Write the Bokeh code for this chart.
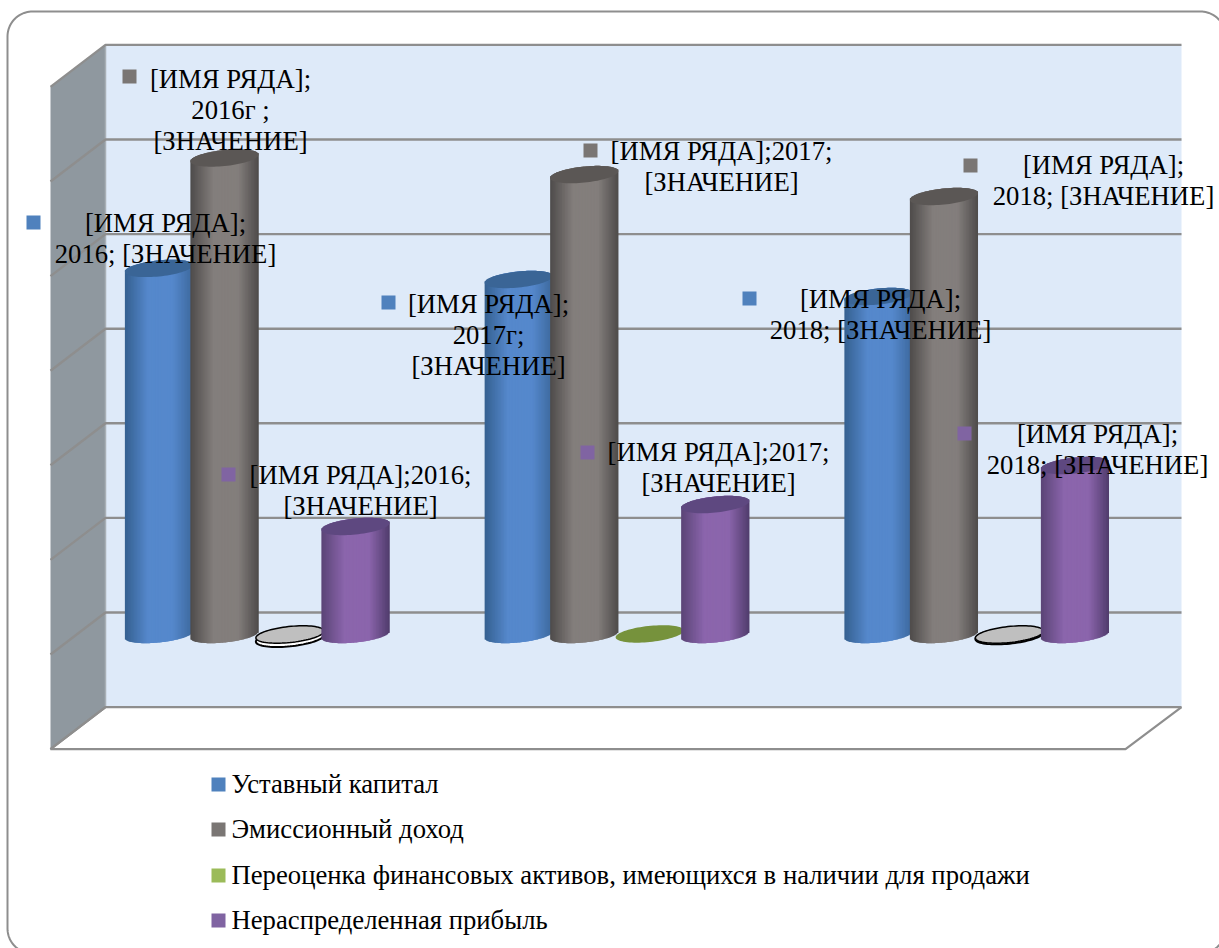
import numpy as np
from bokeh.core.properties import value
from bokeh.embed import file_html
from bokeh.models import Range1d
from bokeh.plotting import figure
from bokeh.resources import INLINE

# ---- data -----------------------------------------------------------------
years = ["2016", "2017", "2018"]
share_capital = [3870, 3753, 3573]
share_premium = [5037, 4862, 4630]
revaluation = [-40, 6, -12]
retained_earnings = [1142, 1374, 1786]

legend_names = [
    "Уставный капитал",
    "Эмиссионный доход",
    "Переоценка финансовых активов, имеющихся в наличии для продажи",
    "Нераспределенная прибыль",
]
series_colors = ["#4f81bd", "#7a7674", "#9bbb59", "#8064a2"]
value_ticks = [-1000, 0, 1000, 2000, 3000, 4000, 5000, 6000]

# data label text, one row per label: marker colour index, marker x, marker y,
# lines of text, centre of the text block
data_labels = [
    (1, 129, 76, ["[ИМЯ РЯДА];", "2016г ;", "[ЗНАЧЕНИЕ]"], 230, 78),
    (0, 33, 222, ["[ИМЯ РЯДА];", "2016; [ЗНАЧЕНИЕ]"], 165, 222),
    (0, 388, 302, ["[ИМЯ РЯДА];", "2017г;", "[ЗНАЧЕНИЕ]"], 488, 303),
    (1, 590, 150, ["[ИМЯ РЯДА];2017;", "[ЗНАЧЕНИЕ]"], 721, 150),
    (3, 228, 474, ["[ИМЯ РЯДА];2016;", "[ЗНАЧЕНИЕ]"], 360, 474),
    (3, 587, 452, ["[ИМЯ РЯДА];2017;", "[ЗНАЧЕНИЕ]"], 718, 451),
    (1, 970, 165, ["[ИМЯ РЯДА];", "2018; [ЗНАЧЕНИЕ]"], 1103, 164),
    (0, 749, 298, ["[ИМЯ РЯДА];", "2018; [ЗНАЧЕНИЕ]"], 880, 298),
    (3, 964, 433, ["[ИМЯ РЯДА];", "2018; [ЗНАЧЕНИЕ]"], 1097, 433),
]

# ---- layout constants ------------------------------------------------------
W, H = 1219, 948
FONT = value("Liberation Serif")
FONT_SIZE = "26.7px"
PX_PER_UNIT = 0.0946      # vertical pixels per value unit
PX_PER_GROUP = 359.75     # horizontal pixels per category
ZERO_PX = 634             # pixel row of value 0 at the depth of the bars
FIRST_GROUP_PX = 256.7
BAR_PITCH = 65.5 / PX_PER_GROUP
BAR_W = 68.5 / PX_PER_GROUP
TILT = np.deg2rad(6)
SEMI_MINOR = 8.0          # px, cap ellipse
BACK_SHIFT = 22 / PX_PER_UNIT   # back wall sits higher than the bars

p = figure(
    width=W, height=H, output_backend="svg", toolbar_location=None,
    x_axis_type=None, y_axis_type=None, min_border=0,
    x_range=Range1d(-FIRST_GROUP_PX / PX_PER_GROUP, (W - FIRST_GROUP_PX) / PX_PER_GROUP),
    y_range=Range1d((ZERO_PX - H) / PX_PER_UNIT, ZERO_PX / PX_PER_UNIT),
    background_fill_color="white", border_fill_color="white",
)
p.outline_line_color = None
p.grid.visible = False
p.extra_x_ranges["px"] = Range1d(0, W)
p.extra_y_ranges["px"] = Range1d(H, 0)
PX = dict(x_range_name="px", y_range_name="px")


def ellipse_outline(cx, v, n=80):
    """Tilted ellipse around (cx, v) in data units: flatter cylinder end."""
    a = BAR_W / 2 * PX_PER_GROUP
    t = np.linspace(0, 2 * np.pi, n)
    dx = a * np.cos(t) * np.cos(TILT) - SEMI_MINOR * np.sin(t) * np.sin(TILT)
    dy = a * np.cos(t) * np.sin(TILT) + SEMI_MINOR * np.sin(t) * np.cos(TILT)
    return cx + dx / PX_PER_GROUP, v + dy / PX_PER_UNIT


def edge_at(ex, ey, xs, lower):
    """Lower or upper boundary of a closed outline at the given x positions."""
    out = []
    for x in xs:
        d = []
        for i in range(len(ex) - 1):
            if (ex[i] - x) * (ex[i + 1] - x) <= 0 and ex[i] != ex[i + 1]:
                f = (x - ex[i]) / (ex[i + 1] - ex[i])
                d.append(ey[i] + f * (ey[i + 1] - ey[i]))
        out.append(min(d) if lower else max(d))
    return np.array(out)


def mix(c1, c2, f):
    a = np.array(c1)
    b = np.array(c2)
    r = a + (b - a) * f
    return "#%02x%02x%02x" % tuple(int(round(x)) for x in r)


def cylinder(cx, v, shades, cap):
    """Vertical cylinder drawn from narrow shaded strips plus a top cap."""
    left, mid, right = shades
    ex, ey = ellipse_outline(cx, 0)
    x0, x1 = ex.min(), ex.max()
    n = 46
    edges = np.linspace(x0, x1, n + 1)
    centres = (edges[:-1] + edges[1:]) / 2
    low = edge_at(ex, ey, centres, True)
    cx_top, cy_top = ellipse_outline(cx, v)
    mid_top = edge_at(cx_top, cy_top, centres, False)
    xs, ys, colors = [], [], []
    for i in range(n):
        u = (i + 0.5) / n
        # dark only near the rims, with a broad lit middle
        if u < 0.5:
            col = mix(left, mid, min(1.0, u / 0.34))
        else:
            col = mix(right, mid, min(1.0, (1 - u) / 0.30))
        xr = edges[min(i + 2, n)]
        xs.append([edges[i], xr, xr, edges[i]])
        ys.append([low[i], low[min(i + 1, n - 1)], mid_top[min(i + 1, n - 1)], mid_top[i]])
        colors.append(col)
    p.patches(xs, ys, fill_color=colors, line_color=None)
    p.patch(cx_top, cy_top, fill_color=cap, line_color=None)


# ---- frame around the chart -------------------------------------------------
L, T, R, B, RAD = 7, 11, 1225, 953, 25
arc = np.linspace(0, np.pi / 2, 24)
frame_x = np.concatenate([
    L + RAD - RAD * np.cos(arc), R - RAD + RAD * np.sin(arc),
    R - RAD + RAD * np.cos(arc), L + RAD - RAD * np.sin(arc), [L],
])
frame_y = np.concatenate([
    T + RAD - RAD * np.sin(arc), T + RAD - RAD * np.cos(arc),
    B - RAD + RAD * np.sin(arc), B - RAD + RAD * np.cos(arc), [T + RAD],
])
p.line(frame_x, frame_y, line_color="#8e8e8e", line_width=2, **PX)

# ---- walls and floor --------------------------------------------------------
WALL_L, WALL_R, FRONT_L, FRONT_R, DEPTH = 105, 1181, 50, 1125, 42
top_px = ZERO_PX - (value_ticks[-1] + BACK_SHIFT) * PX_PER_UNIT
bot_px = ZERO_PX - (value_ticks[0] + BACK_SHIFT) * PX_PER_UNIT
p.patch([WALL_L, WALL_R, WALL_R, WALL_L], [top_px, top_px, bot_px, bot_px],
        fill_color="#deeaf9", line_color=None, **PX)
p.patch([FRONT_L, WALL_L, WALL_L, FRONT_L],
        [top_px + DEPTH, top_px, bot_px, bot_px + DEPTH],
        fill_color="#8f989f", line_color=None, **PX)
p.line([WALL_L, WALL_L], [top_px, bot_px], line_color="#a9b0b6", line_width=1.5, **PX)
p.line([WALL_L, FRONT_L, FRONT_R, WALL_R],
       [bot_px, bot_px + DEPTH, bot_px + DEPTH, bot_px],
       line_color="#8e8e8e", line_width=2.2, **PX)

# gridlines run along the back wall and slant down the side wall
for tick in value_ticks:
    y_back = ZERO_PX - (tick + BACK_SHIFT) * PX_PER_UNIT
    p.line([FRONT_L, WALL_L, WALL_R], [y_back + DEPTH, y_back, y_back],
           line_color="#8e8e8e", line_width=2.4, **PX)

# ---- cylinders --------------------------------------------------------------
SHADES_BLUE = ((0x35, 0x60, 0x90), (0x55, 0x88, 0xcc), (0x3c, 0x68, 0x9c))
SHADES_GREY = ((0x4e, 0x4b, 0x4a), (0x83, 0x7e, 0x7c), (0x4e, 0x4b, 0x4a))
SHADES_VIOLET = ((0x5a, 0x44, 0x76), (0x8b, 0x65, 0xac), (0x50, 0x3c, 0x6c))

for g, year in enumerate(years):
    cylinder(g - 1.5 * BAR_PITCH, share_capital[g], SHADES_BLUE, "#3a6596")
    cylinder(g - 0.5 * BAR_PITCH, share_premium[g], SHADES_GREY, "#5b5755")

    # revaluation is close to zero, so it reads as a flat disc
    cx = g + 0.5 * BAR_PITCH
    v = revaluation[g]
    if v < 0:
        lx, ly = ellipse_outline(cx, v)
        p.patch(lx, ly, fill_color="white", line_color="black", line_width=2)
        tx, ty = ellipse_outline(cx, 0)
        p.patch(tx, ty, fill_color="#bfbfbf", line_color="black", line_width=1.5)
    else:
        tx, ty = ellipse_outline(cx, v)
        p.patch(tx, ty, fill_color="#76923c", line_color=None)

    cylinder(g + 1.5 * BAR_PITCH, retained_earnings[g], SHADES_VIOLET, "#5e4880")

# ---- data labels ------------------------------------------------------------
LINE_STEP = 31
for color_idx, mx, my, lines, tx, ty in data_labels:
    p.scatter([mx], [my], marker="square", size=14, fill_color=series_colors[color_idx],
              line_color=None, **PX)
    p.text([tx] * len(lines), [ty + i * LINE_STEP for i in range(len(lines))], text=lines,
           text_font=FONT, text_font_size=FONT_SIZE, text_color="black",
           text_align="center", text_baseline="middle", **PX)

# ---- legend -----------------------------------------------------------------
legend_y = [784, 829, 875, 920]
p.scatter([218] * 4, legend_y, marker="square", size=14, fill_color=series_colors,
          line_color=None, **PX)
p.text([231] * 4, [y - 1 for y in legend_y], text=legend_names, text_font=FONT,
       text_font_size=FONT_SIZE, text_color="black", text_align="left",
       text_baseline="middle", **PX)

open("out.html", "w").write(file_html(p, INLINE))
